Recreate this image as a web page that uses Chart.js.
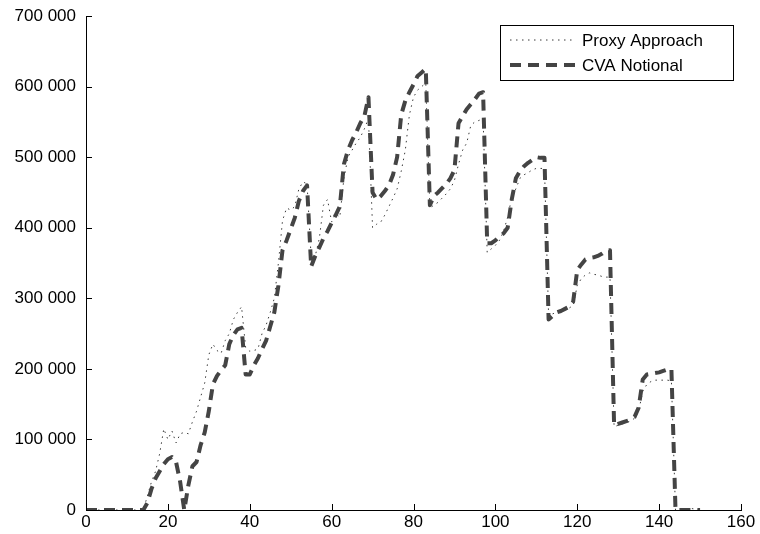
<!DOCTYPE html>
<html>
<head>
<meta charset="utf-8">
<script src="https://cdn.jsdelivr.net/npm/chart.js@4.4.1/dist/chart.umd.min.js"></script>
<style>
  html, body { margin: 0; padding: 0; background: #fff; }
  #wrap { width: 760px; height: 534px; }
</style>
</head>
<body>
<div id="wrap"><canvas id="cvaChart" width="760" height="534"></canvas></div>
<script>
(function(){
  // time steps 0..150
  const steps = Array.from({length: 151}, (_, i) => i);

  // values in thousands
  const proxyK = [
    0, 0, 0, 0, 0, 0, 0, 0, 0, 0,
    0, 0, 0, 0, 0, 20, 40, 55, 80, 115,
    100, 112, 95, 108, 110, 108, 125, 140, 160, 180,
    220, 235, 226, 222, 240, 250, 270, 280, 288, 230,
    225, 226, 228, 250, 262, 280, 300, 350, 410, 428,
    425, 430, 455, 465, 462, 358, 360, 385, 432, 440,
    408, 420, 415, 470, 500, 510, 520, 528, 540, 555,
    400, 405, 408, 418, 430, 442, 455, 480, 510, 560,
    585, 595, 600, 605, 428, 432, 436, 442, 448, 455,
    467, 490, 510, 520, 545, 550, 552, 555, 365, 370,
    375, 382, 395, 415, 443, 455, 470, 475, 478, 482,
    484, 484, 484, 275, 278, 280, 282, 284, 286, 290,
    318, 328, 333, 336, 334, 333, 331, 330, 330, 118,
    120, 122, 124, 126, 130, 140, 168, 178, 182, 184,
    184, 184, 184, 183, 0, 2, 2, 1, 2, 1,
    0
  ];

  const cvaK = [
    0, 0, 0, 0, 0, 0, 0, 0, 0, 0,
    0, 0, 0, 0, 0, 10, 30, 45, 55, 65,
    72, 75, 68, 40, 0, 35, 62, 68, 92, 110,
    140, 178, 190, 198, 205, 235, 248, 256, 258, 192,
    192, 205, 215, 228, 240, 260, 280, 318, 368, 382,
    398, 414, 438, 452, 460, 345, 360, 372, 385, 395,
    407, 418, 430, 490, 510, 524, 535, 548, 558, 585,
    450, 440, 445, 452, 460, 475, 500, 560, 580, 592,
    603, 615, 620, 625, 432, 445, 450, 456, 462, 470,
    482, 548, 558, 568, 575, 582, 590, 592, 378, 378,
    382, 388, 392, 400, 440, 470, 480, 487, 492, 496,
    500, 499, 499, 270, 275, 280, 282, 285, 288, 295,
    340, 348, 355, 357, 358, 360, 363, 367, 368, 120,
    122, 124, 126, 128, 132, 145, 185, 192, 193, 194,
    195, 197, 199, 200, 0, 0, 0, 0, 0, 0,
    0
  ];

  const seriesNames = ['Proxy Approach', 'CVA Notional'];
  const xTicks = [0, 20, 40, 60, 80, 100, 120, 140, 160];
  const yTicks = [0, 100000, 200000, 300000, 400000, 500000, 600000, 700000];

  const FONT = '"Liberation Sans", Arial, Helvetica, sans-serif';
  const toPts = arr => steps.map((s, i) => ({x: s, y: arr[i] * 1000}));
  const fmt = v => String(v).replace(/\B(?=(\d{3})+(?!\d))/g, ' ');

  const lineStyles = [
    {color: '#3a3a3a', width: 1, dash: [1.5, 4.5]},
    {color: '#444444', width: 4, dash: [11, 7]}
  ];

  // inward tick marks, matlab style
  const innerTicks = {
    id: 'innerTicks',
    afterDraw(chart) {
      const {ctx, chartArea: a, scales: {x, y}} = chart;
      ctx.save();
      ctx.strokeStyle = '#000';
      ctx.lineWidth = 1;
      ctx.beginPath();
      xTicks.forEach(v => {
        const px = Math.round(x.getPixelForValue(v)) + 0.5;
        ctx.moveTo(px, a.bottom);
        ctx.lineTo(px, a.bottom - 6);
      });
      yTicks.forEach(v => {
        const py = Math.round(y.getPixelForValue(v)) + 0.5;
        ctx.moveTo(a.left, py);
        ctx.lineTo(a.left + 6, py);
      });
      ctx.stroke();
      ctx.restore();
    }
  };

  // boxed legend in the upper right corner
  const boxLegend = {
    id: 'boxLegend',
    afterDraw(chart) {
      const {ctx, chartArea: a} = chart;
      const w = 233, h = 55;
      const bx = a.right - 8 - w, by = a.top + 9;
      ctx.save();
      ctx.fillStyle = '#fff';
      ctx.fillRect(bx, by, w, h);
      ctx.strokeStyle = '#000';
      ctx.lineWidth = 1;
      ctx.strokeRect(bx + 0.5, by + 0.5, w, h);
      ctx.font = '17px ' + FONT;
      ctx.textBaseline = 'middle';
      seriesNames.forEach((name, i) => {
        const cy = by + 15 + i * 25;
        const st = lineStyles[i];
        ctx.strokeStyle = st.color;
        ctx.lineWidth = st.width;
        ctx.setLineDash(st.dash);
        ctx.beginPath();
        ctx.moveTo(bx + 10, cy);
        ctx.lineTo(bx + 76, cy);
        ctx.stroke();
        ctx.setLineDash([]);
        ctx.fillStyle = '#000';
        ctx.fillText(name, bx + 82, cy + 1);
      });
      ctx.restore();
    }
  };

  new Chart(document.getElementById('cvaChart'), {
    type: 'line',
    data: {
      datasets: [
        {
          label: seriesNames[0],
          data: toPts(proxyK),
          borderColor: lineStyles[0].color,
          borderWidth: lineStyles[0].width,
          borderDash: lineStyles[0].dash,
          borderJoinStyle: 'round',
          pointRadius: 0,
          tension: 0,
          order: 1
        },
        {
          label: seriesNames[1],
          data: toPts(cvaK),
          borderColor: lineStyles[1].color,
          borderWidth: lineStyles[1].width,
          borderDash: lineStyles[1].dash,
          borderCapStyle: 'butt',
          borderJoinStyle: 'round',
          pointRadius: 0,
          tension: 0,
          order: 0
        }
      ]
    },
    options: {
      responsive: false,
      animation: false,
      layout: { padding: { left: 0, right: 19, top: 16, bottom: 0 } },
      plugins: { legend: { display: false }, tooltip: { enabled: false } },
      scales: {
        x: {
          type: 'linear',
          min: 0, max: 160,
          afterBuildTicks: s => { s.ticks = xTicks.map(v => ({value: v})); },
          afterFit: s => { s.height = 24; },
          grid: { display: false },
          border: { display: true, color: '#000', width: 1 },
          ticks: { color: '#000', font: { family: FONT, size: 17 }, padding: -6, maxRotation: 0 }
        },
        y: {
          min: 0, max: 700000,
          afterBuildTicks: s => { s.ticks = yTicks.map(v => ({value: v})); },
          afterFit: s => { s.width = 86; },
          grid: { display: false },
          border: { display: true, color: '#000', width: 1 },
          ticks: { color: '#000', font: { family: FONT, size: 17 }, padding: 2, callback: v => fmt(v) }
        }
      }
    },
    plugins: [innerTicks, boxLegend]
  });
})();
</script>
</body>
</html>
